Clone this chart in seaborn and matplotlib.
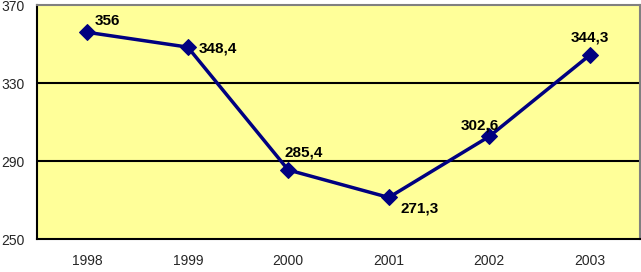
import matplotlib
matplotlib.use("Agg")
import matplotlib.pyplot as plt
import seaborn as sns
import pandas as pd

years = ["1998", "1999", "2000", "2001", "2002", "2003"]
values = [356, 348.4, 285.4, 271.3, 302.6, 344.3]
labels = ["356", "348,4", "285,4", "271,3", "302,6", "344,3"]
# label offsets in pixels (dx, dy) and horizontal alignment
offsets = [(7, 11, "left"), (11, -1, "left"), (-4, 17, "left"), (12, -11, "left"), (-9, 11, "center"), (0, 18, "center")]

sns.set_style("white")
plt.rcParams['font.family'] = ['Liberation Sans', 'DejaVu Sans']

fig = plt.figure(figsize=(6.41, 2.72), dpi=100)
ax = fig.add_axes([37/641, (272-239)/272, 603/641, 234/272])
ax.set_facecolor("#FFFF99")

df = pd.DataFrame({"x": range(len(years)), "y": values})
sns.lineplot(data=df, x="x", y="y", ax=ax, color="#000080", linewidth=2.5,
             marker="D", markersize=8, markeredgecolor="#000080", markerfacecolor="#000080")

ax.set_xlim(-0.5, len(years) - 0.5)
ax.set_ylim(250, 370)
ax.set_yticks([250, 290, 330, 370])
ax.set_yticklabels(["250", "290", "330", "370"], fontsize=10)
for yv in [290, 330]:
    ax.axhline(yv, color="black", linewidth=1.5, zorder=1)

ax.set_xticks(range(len(years)))
ax.set_xticklabels(years, fontsize=10)
ax.tick_params(axis="x", which="major", length=0, pad=11)
ax.set_xticks([i - 0.5 for i in range(len(years) + 1)], minor=True)
ax.tick_params(axis="x", which="minor", length=4, width=1.5, color="black", direction="out")
ax.tick_params(axis="y", which="major", length=4, width=1.5, color="black", direction="out", pad=5)
ax.set_xlabel("")
ax.set_ylabel("")

for s in ["left", "bottom"]:
    ax.spines[s].set_color("black")
    ax.spines[s].set_linewidth(1.5)
for s in ["top", "right"]:
    ax.spines[s].set_color("#808080")
    ax.spines[s].set_linewidth(1.5)

for i, (v, lab) in enumerate(zip(values, labels)):
    dx, dy, ha = offsets[i]
    ax.annotate(lab, (i, v), xytext=(dx, dy), textcoords="offset pixels",
                ha=ha, va="center", fontsize=11, fontweight="bold", color="black")

fig.savefig("out.png", dpi=100)
